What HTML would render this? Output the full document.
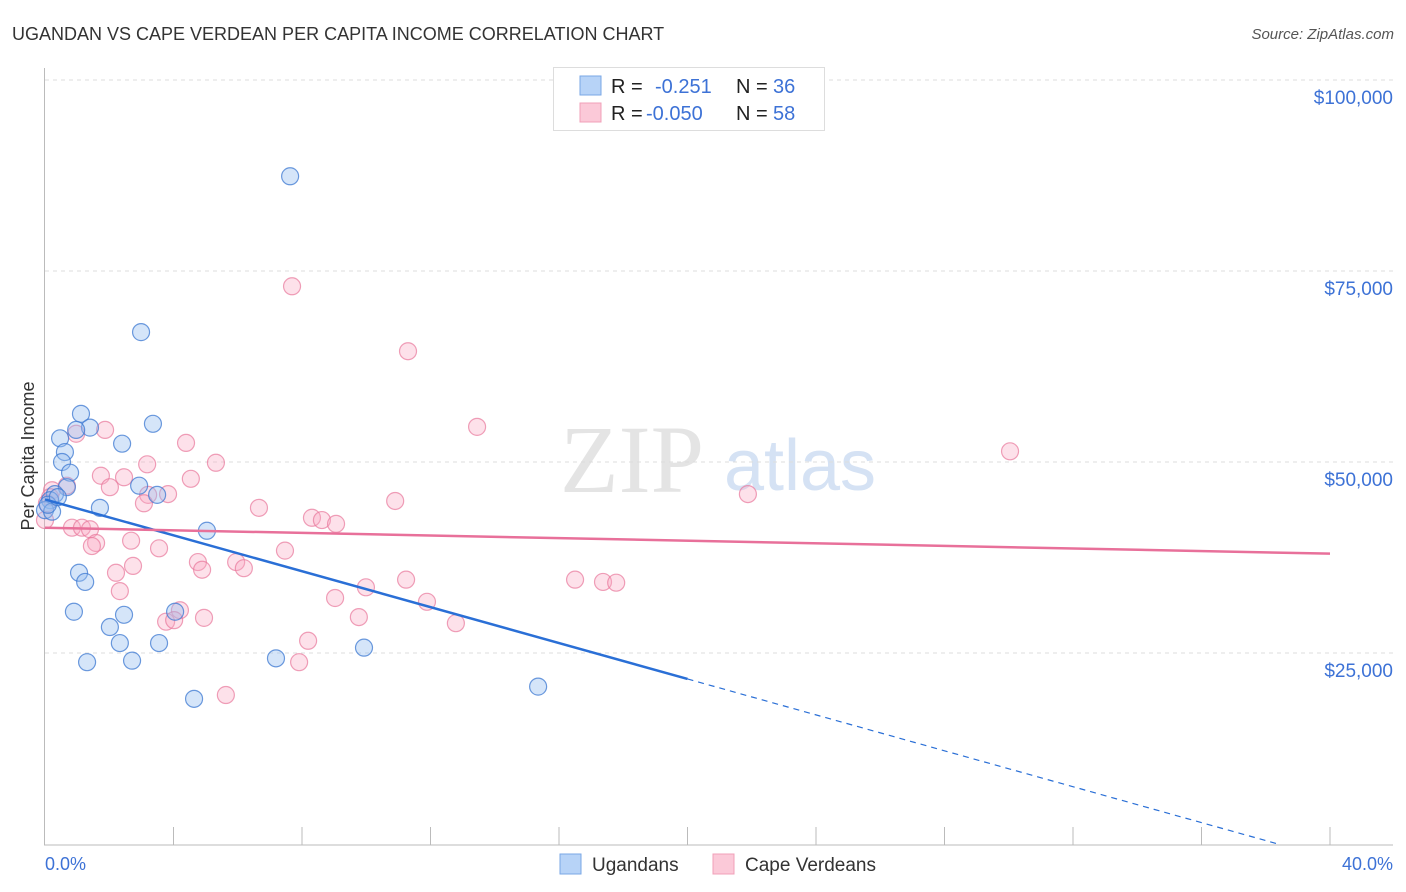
<!DOCTYPE html>
<html><head><meta charset="utf-8"><style>
body{margin:0;background:#fff;font-family:"Liberation Sans",sans-serif}
svg{display:block}
</style></head><body>
<svg id="c" width="1406" height="892" xmlns="http://www.w3.org/2000/svg">
<text x="12" y="40" font-size="18" fill="#333">UGANDAN VS CAPE VERDEAN PER CAPITA INCOME CORRELATION CHART</text>
<text x="1394" y="39" font-size="15" fill="#555" font-style="italic" text-anchor="end">Source: ZipAtlas.com</text>
<text x="632" y="492" font-size="96" fill="#e4e4e4" font-family="Liberation Serif,serif" text-anchor="middle">ZIP</text>
<text x="800" y="490" font-size="72" fill="#d5e2f4" text-anchor="middle">atlas</text>
<g id="grid"></g><g id="axes"></g><g id="pts"></g><g id="lines"></g>
<text transform="translate(34,456) rotate(-90)" font-size="18" fill="#333" text-anchor="middle">Per Capita Income</text>
<text x="45" y="870" font-size="18" fill="#3d72d6">0.0%</text>
<text x="1393" y="870" font-size="18" fill="#3d72d6" text-anchor="end">40.0%</text>
<g>
<rect x="553.5" y="67.5" width="271" height="63" fill="#fff" stroke="#ddd"/>
<rect x="580" y="76" width="21" height="19" fill="#b7d3f7" stroke="#7aa7e6"/>
<rect x="580" y="103" width="21" height="19" fill="#fbc9d8" stroke="#f0a0b8"/>
<text x="611" y="93" font-size="20" fill="#222">R =</text><text x="655" y="93" font-size="20" fill="#3d72d6">-0.251</text>
<text x="736" y="93" font-size="20" fill="#222">N =</text><text x="773" y="93" font-size="20" fill="#3d72d6">36</text>
<text x="611" y="120" font-size="20" fill="#222">R =</text><text x="646" y="120" font-size="20" fill="#3d72d6">-0.050</text>
<text x="736" y="120" font-size="20" fill="#222">N =</text><text x="773" y="120" font-size="20" fill="#3d72d6">58</text>
</g>
<g>
<rect x="560" y="854" width="21" height="20" fill="#b7d3f7" stroke="#7aa7e6"/>
<text x="592" y="871" font-size="19" fill="#333">Ugandans</text>
<rect x="713" y="854" width="21" height="20" fill="#fbc9d8" stroke="#f0a0b8"/>
<text x="745" y="871" font-size="19" fill="#333">Cape Verdeans</text>
</g>
</svg>
<script>
const yTicks=[25000,50000,75000,100000];
const yTickLabels=["$25,000","$50,000","$75,000","$100,000"];
const ugX=[7.63,2.99,1.12,3.36,1.40,0.97,0.47,2.40,0.62,0.53,0.78,2.93,0.68,0.31,3.49,0.16,0.0,0.22,1.71,5.04,1.06,1.25,0.90,2.46,2.02,4.05,2.33,3.55,1.31,2.71,7.19,9.93,4.64,15.35,0.09,0.40];
const ugY=[87.4,67.0,56.3,55.0,54.5,54.2,53.1,52.4,51.3,50.0,48.6,46.9,46.7,45.8,45.7,45.0,43.7,43.5,44.0,41.0,35.5,34.3,30.4,30.0,28.4,30.4,26.3,26.3,23.8,24.0,24.3,25.7,19.0,20.6,44.4,45.4];
const cvX=[7.69,11.30,13.45,30.04,21.88,0.97,1.87,4.39,3.18,5.32,1.74,2.46,4.54,2.02,0.68,3.83,3.21,3.08,10.90,6.66,0.22,0.16,0.06,0.0,0.84,1.15,1.40,8.31,8.62,9.06,1.59,1.46,2.68,3.55,7.47,4.76,5.95,6.19,4.89,2.74,2.21,11.24,16.50,17.37,17.78,9.99,2.33,9.03,11.89,4.20,9.77,4.95,3.77,4.02,12.79,8.19,7.91,5.63];
const cvY=[73.0,64.5,54.6,51.4,45.8,53.7,54.2,52.5,49.7,49.9,48.2,48.0,47.8,46.7,46.9,45.8,45.7,44.6,44.9,44.0,46.3,45.4,44.6,42.4,41.4,41.4,41.2,42.7,42.4,41.9,39.4,39.0,39.7,38.7,38.4,36.9,36.9,36.1,35.9,36.4,35.5,34.6,34.6,34.3,34.2,33.6,33.1,32.2,31.7,30.6,29.7,29.6,29.1,29.3,28.9,26.6,23.8,19.5];
const ugTrend=[45.1,21.6];
const cvTrend=[41.4,38.0];
const NS="http://www.w3.org/2000/svg";
const sx=v=>45+v/40*1285;
const sy=v=>844-v/25*191;
function mk(t,a,p){const e=document.createElementNS(NS,t);for(const k in a)e.setAttribute(k,a[k]);p.appendChild(e);return e;}
const grid=document.getElementById('grid'),axes=document.getElementById('axes'),pts=document.getElementById('pts'),lines=document.getElementById('lines');
yTicks.forEach((t,i)=>{const y=sy(t/1000);
const l=mk('line',{x1:45,x2:1393,y1:y,y2:y,stroke:'#ddd','stroke-dasharray':'4,4'},grid);


const tx=mk('text',{x:1393,y:y+24,'font-size':19,fill:'#3d72d6','text-anchor':'end'},grid);tx.textContent=yTickLabels[i];

});
mk('line',{x1:44.5,x2:44.5,y1:68,y2:845,stroke:'#bbb'},axes);
mk('line',{x1:44,x2:1393,y1:845,y2:845,stroke:'#bbb'},axes);
for(let i=1;i<=10;i++){const x=sx(i*4);const t=mk('line',{x1:x,x2:x,y1:827,y2:845,stroke:'#bbb'},axes);

}
function dots(X,Y,fill,stroke,name){X.forEach((x,i)=>{const c=mk('circle',{cx:sx(x),cy:sy(Y[i]),r:8.5,fill:fill,stroke:stroke,'stroke-width':1.2},pts);

});}
dots(cvX,cvY,'rgba(248,170,195,0.35)','rgba(232,120,155,0.7)','cape-verdean-point');
dots(ugX,ugY,'rgba(150,190,240,0.4)','rgba(60,120,210,0.75)','ugandan-point');
const slope=(ugTrend[1]-ugTrend[0])/20;
const l1=mk('line',{x1:sx(0),y1:sy(ugTrend[0]),x2:sx(20),y2:sy(ugTrend[1]),stroke:'#2a6fd6','stroke-width':2.5},lines);


const xe=-ugTrend[0]/slope;
const l2=mk('line',{x1:sx(20),y1:sy(ugTrend[1]),x2:sx(xe),y2:sy(0),stroke:'#2a6fd6','stroke-width':1.2,'stroke-dasharray':'6,5'},lines);


const l3=mk('line',{x1:sx(0),y1:sy(cvTrend[0]),x2:sx(40),y2:sy(cvTrend[1]),stroke:'#e8709a','stroke-width':2.5},lines);


</script>
</body></html>
